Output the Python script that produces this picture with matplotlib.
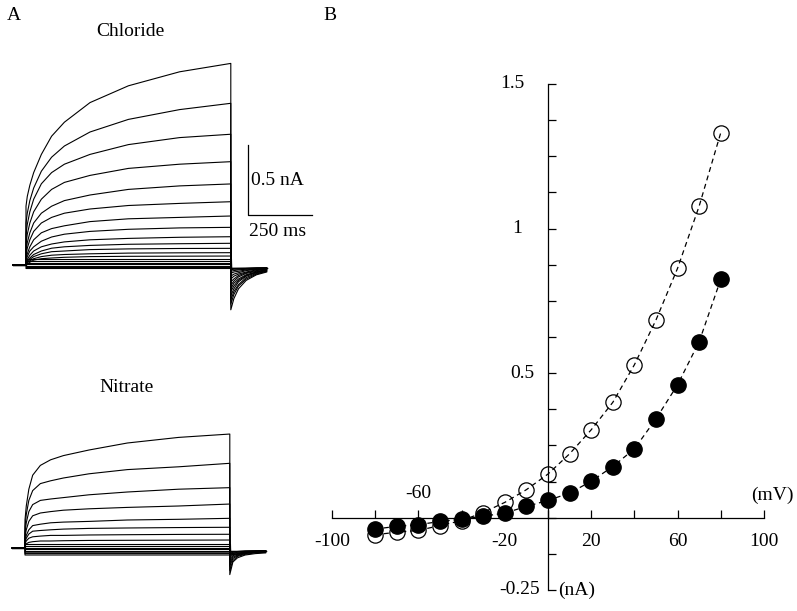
import numpy as np
import matplotlib
matplotlib.use("Agg")
import matplotlib.pyplot as plt

plt.rcParams['font.family'] = ['Liberation Serif', 'DejaVu Serif']
plt.rcParams['font.size'] = 14

# ---- panel A: current traces (ms, nA) ----
t_pulse = [0, 5, 15, 30, 60, 100, 150, 250, 400, 600, 800]
t_tail = [800, 812, 830, 860, 900, 940]
t_hold = -50

chloride_traces = [
    [0.42, 0.49, 0.57, 0.66, 0.79, 0.92, 1.02, 1.16, 1.28, 1.38, 1.44],
    [0.30, 0.37, 0.46, 0.55, 0.67, 0.77, 0.85, 0.95, 1.04, 1.11, 1.155],
    [0.22, 0.29, 0.38, 0.47, 0.58, 0.66, 0.72, 0.79, 0.86, 0.91, 0.934],
    [0.15, 0.22, 0.30, 0.38, 0.47, 0.54, 0.59, 0.64, 0.69, 0.72, 0.738],
    [0.10, 0.16, 0.23, 0.30, 0.37, 0.42, 0.46, 0.50, 0.54, 0.565, 0.579],
    [0.07, 0.12, 0.18, 0.24, 0.30, 0.34, 0.37, 0.40, 0.425, 0.44, 0.452],
    [0.05, 0.08, 0.13, 0.18, 0.23, 0.26, 0.28, 0.31, 0.33, 0.34, 0.35],
    [0.03, 0.06, 0.10, 0.13, 0.17, 0.20, 0.22, 0.24, 0.255, 0.265, 0.269],
    [0.02, 0.04, 0.07, 0.10, 0.13, 0.15, 0.165, 0.18, 0.19, 0.198, 0.202],
    [0.01, 0.03, 0.05, 0.075, 0.10, 0.12, 0.13, 0.14, 0.148, 0.152, 0.155],
    [0.01, 0.02, 0.04, 0.06, 0.08, 0.095, 0.10, 0.11, 0.115, 0.118, 0.119],
    [0.0, 0.02, 0.03, 0.045, 0.06, 0.07, 0.075, 0.08, 0.085, 0.087, 0.088],
    [0.0, 0.01, 0.02, 0.035, 0.045, 0.05, 0.055, 0.06, 0.062, 0.063, 0.064],
]
chloride_tails = [
    [-0.32, -0.24, -0.17, -0.11, -0.07, -0.05],
    [-0.28, -0.21, -0.15, -0.10, -0.065, -0.045],
    [-0.25, -0.19, -0.14, -0.09, -0.06, -0.045],
    [-0.22, -0.17, -0.12, -0.08, -0.055, -0.04],
    [-0.19, -0.15, -0.11, -0.075, -0.05, -0.04],
    [-0.17, -0.13, -0.10, -0.07, -0.05, -0.035],
    [-0.145, -0.115, -0.085, -0.06, -0.045, -0.035],
    [-0.12, -0.10, -0.075, -0.055, -0.04, -0.03],
    [-0.10, -0.08, -0.065, -0.05, -0.035, -0.03],
    [-0.08, -0.065, -0.055, -0.04, -0.03, -0.025],
    [-0.06, -0.05, -0.045, -0.035, -0.03, -0.025],
    [-0.045, -0.04, -0.035, -0.03, -0.025, -0.02],
    [-0.035, -0.03, -0.03, -0.025, -0.02, -0.02],
]
chloride_flat = [0.045, 0.031, 0.017, 0.006, -0.006, -0.015, -0.025]

nitrate_traces = [
    [0.20, 0.30, 0.42, 0.52, 0.59, 0.63, 0.66, 0.70, 0.75, 0.79, 0.814],
    [0.15, 0.24, 0.34, 0.41, 0.46, 0.48, 0.50, 0.53, 0.56, 0.58, 0.605],
    [0.11, 0.18, 0.26, 0.31, 0.34, 0.35, 0.36, 0.38, 0.40, 0.42, 0.431],
    [0.08, 0.13, 0.19, 0.23, 0.25, 0.26, 0.27, 0.28, 0.29, 0.30, 0.314],
    [0.05, 0.09, 0.13, 0.16, 0.17, 0.18, 0.185, 0.19, 0.20, 0.205, 0.212],
    [0.04, 0.07, 0.10, 0.12, 0.125, 0.13, 0.135, 0.14, 0.143, 0.146, 0.148],
    [0.03, 0.05, 0.07, 0.08, 0.085, 0.09, 0.09, 0.093, 0.095, 0.097, 0.098],
    [0.02, 0.03, 0.04, 0.045, 0.05, 0.05, 0.052, 0.054, 0.055, 0.056, 0.057],
]
nitrate_tails = [
    [-0.19, -0.10, -0.07, -0.05, -0.04, -0.035],
    [-0.16, -0.09, -0.06, -0.045, -0.035, -0.03],
    [-0.13, -0.075, -0.055, -0.04, -0.03, -0.03],
    [-0.11, -0.065, -0.05, -0.035, -0.03, -0.025],
    [-0.09, -0.055, -0.045, -0.03, -0.025, -0.025],
    [-0.07, -0.045, -0.04, -0.03, -0.025, -0.02],
    [-0.05, -0.04, -0.03, -0.025, -0.02, -0.02],
    [-0.04, -0.03, -0.025, -0.02, -0.02, -0.02],
]
nitrate_flat = [0.026, 0.012, 0.0, -0.01, -0.02, -0.03, -0.04, -0.05]

scale_nA = 0.5
scale_ms = 250

# ---- panel B: I-V relation ----
voltages = [-80, -70, -60, -50, -40, -30, -20, -10, 0, 10, 20, 30, 40, 50, 60, 70, 80]
chloride_iv = [-0.059, -0.05, -0.044, -0.027, -0.01, 0.018, 0.053, 0.097, 0.151,
               0.221, 0.304, 0.399, 0.529, 0.684, 0.863, 1.078, 1.332]
nitrate_iv = [-0.039, -0.03, -0.024, -0.013, -0.005, 0.005, 0.016, 0.039, 0.06,
              0.085, 0.126, 0.177, 0.238, 0.342, 0.46, 0.609, 0.825]

W, H = 797, 611
fig = plt.figure(figsize=(W / 100, H / 100), dpi=100)


def px_axes(x0, y0, x1, y1):
    return fig.add_axes([x0 / W, 1 - y1 / H, (x1 - x0) / W, (y1 - y0) / H])


def draw_traces(ax, traces, tails, flat):
    for row, tail in zip(traces, tails):
        t = [t_hold, 0] + t_pulse + t_tail
        y = [0, 0] + row + tail
        ax.plot(t, y, color='black', lw=0.8)
    for lev in flat:
        ax.plot([t_hold, 0, 0, 800, 800, 940], [0, 0, lev, lev, min(lev, -0.02), -0.02],
                color='black', lw=0.8)


k = 64 / 250.0  # px per ms
axC = px_axes(10, 45, 330, 320)
axC.set_xlim(-16 / k, 304 / k)
axC.set_ylim(-55 / 140, 220 / 140)
axC.axis('off')
draw_traces(axC, chloride_traces, chloride_tails, chloride_flat)
# scale bar
sb_t, sb_i = 867, 0.357
axC.plot([sb_t, sb_t, sb_t + scale_ms], [sb_i + scale_nA, sb_i, sb_i], color='black', lw=0.9)
axC.text(sb_t + 10, sb_i + 0.25, '0.5 nA', ha='left', va='center')
axC.text(sb_t + 117, sb_i - 0.115, '250 ms', ha='center', va='center')

axN = px_axes(10, 400, 330, 600)
axN.set_xlim(-15 / k, 305 / k)
axN.set_ylim(-52 / 140, 148 / 140)
axN.axis('off')
draw_traces(axN, nitrate_traces, nitrate_tails, nitrate_flat)

fig.text(130 / W, 1 - 32 / H, 'Chloride', ha='center', va='center')
fig.text(127 / W, 1 - 388 / H, 'Nitrate', ha='center', va='center')
fig.text(14 / W, 1 - 15 / H, 'A', ha='center', va='center')
fig.text(330 / W, 1 - 15 / H, 'B', ha='center', va='center')

# ---- panel B axes ----
axB = px_axes(332, 84, 764, 590)
axB.set_xlim(-100, 100)
axB.set_ylim(-0.25, 1.5)
for s in ['top', 'right']:
    axB.spines[s].set_visible(False)
axB.spines['left'].set_position(('data', 0))
axB.spines['bottom'].set_position(('data', 0))
for s in ['left', 'bottom']:
    axB.spines[s].set_linewidth(0.9)
axB.set_xticks(np.arange(-100, 101, 20))
axB.set_yticks(np.arange(-0.25, 1.51, 0.125))
axB.tick_params(direction='in', length=6, width=0.9, labelbottom=False, labelleft=False)
axB.patch.set_alpha(0)

axB.plot(voltages, chloride_iv, ls=(0, (4, 3)), color='black', lw=0.9,
         marker='o', ms=11, mfc='none', mec='black', mew=0.9, clip_on=False, zorder=3)
axB.plot(voltages, nitrate_iv, ls=(0, (4, 3)), color='black', lw=0.9,
         marker='o', ms=11, mfc='black', mec='black', clip_on=False, zorder=4)

for v in [-100, -20, 20, 60, 100]:
    axB.annotate(str(v), xy=(v, 0), xytext=(0, -17), textcoords='offset points',
                 ha='center', va='center')
axB.annotate('-60', xy=(-60, 0), xytext=(0, 17.5), textcoords='offset points',
             ha='center', va='center')
axB.annotate('(mV)', xy=(100, 0), xytext=(6, 16), textcoords='offset points',
             ha='center', va='center', annotation_clip=False)
for v, dx in [(1.5, -17), (1, -19), (0.5, -10), (-0.25, -6)]:
    axB.annotate(f'{v:g}', xy=(0, v), xytext=(dx, 0), textcoords='offset points',
                 ha='right', va='center')
axB.annotate('(nA)', xy=(0, -0.25), xytext=(7, 0), textcoords='offset points',
             ha='left', va='center', annotation_clip=False)

fig.savefig('out.png', dpi=100)
